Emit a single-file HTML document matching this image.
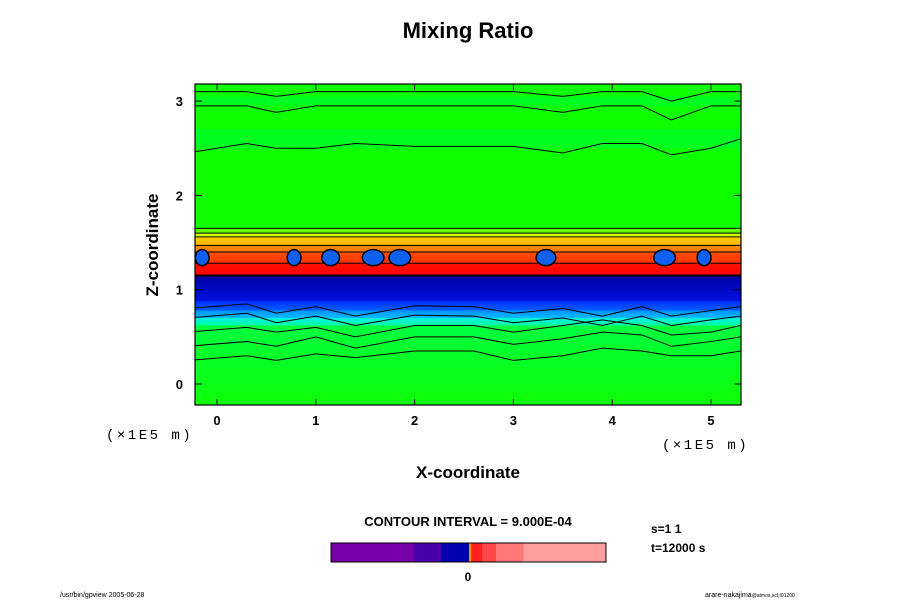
<!DOCTYPE html>
<html><head><meta charset="utf-8"><style>
body{margin:0;background:#fff;}
svg{display:block;font-family:"Liberation Sans",Arial,sans-serif;}
</style></head><body>
<svg id="chart" width="900" height="600" viewBox="0 0 900 600">
<text x="468" y="38" font-size="22" font-weight="bold" text-anchor="middle">Mixing Ratio</text>
<defs><clipPath id="pc"><rect x="195" y="84" width="546" height="321"/></clipPath></defs>
<g id="plot" clip-path="url(#pc)"></g>
<rect x="195" y="84" width="546" height="321" fill="none" stroke="#000" stroke-width="1.2"/>
<g id="axes"></g>
<text x="468" y="478" font-size="17" font-weight="bold" text-anchor="middle">X-coordinate</text>
<text transform="translate(158,245) rotate(-90)" font-size="17" font-weight="bold" text-anchor="middle">Z-coordinate</text>
<text x="106" y="439" font-size="14" letter-spacing="2.5" font-family="Liberation Mono,monospace">(×1E5 m)</text>
<text x="662" y="449" font-size="14" letter-spacing="2.5" font-family="Liberation Mono,monospace">(×1E5 m)</text>
<text x="468" y="526" font-size="13" font-weight="bold" text-anchor="middle">CONTOUR INTERVAL = 9.000E-04</text>
<g id="cbar"></g>
<text x="468" y="581" font-size="12" font-weight="bold" text-anchor="middle">0</text>
<text x="651" y="533" font-size="12" font-weight="bold">s=1 1</text>
<text x="651" y="552" font-size="12" font-weight="bold">t=12000 s</text>
<text x="60" y="597" font-size="7">/usr/bin/gpview 2005-06-28</text>
<text x="705" y="597" font-size="7">arare-nakajima<tspan font-size="5">@atmos,sct,t01200</tspan></text>
</svg>
<script>
const xTicks=[0,1,2,3,4,5];
const zTicks=[0,1,2,3];
const bandTop=[3.3,3.05,2.95,2.7,2.5,1.65,1.60,1.56,1.47,1.40,1.28,1.15,0.88,0.78,0.70,0.62];
const bandBot=[3.05,2.95,2.7,2.5,1.65,1.60,1.56,1.47,1.40,1.28,1.15,0.88,0.78,0.70,0.62,-0.3];
const bandC1=["#10ff00","#00ff20","#10ff00","#00ff20","#10ff00","#60ff00","#c0ff00","#ffd000","#ff9000","#ff5000","#ff1000","#0000a0","#0030ff","#0090ff","#00f0e0","#00ff40"];
const bandC2=["#10ff00","#00ff20","#10ff00","#00ff20","#10ff00","#60ff00","#e0ff00","#ffb000","#ff7000","#ff3000","#ff0000","#0010e0","#0060ff","#00c0ff","#00ffa0","#10ff00"];
const blobX=[-0.15,0.78,1.15,1.58,1.85,3.33,4.53,4.93];
const blobW=[0.07,0.07,0.09,0.11,0.11,0.1,0.11,0.07];
const lineXs=[-0.3,0.3,0.6,1.0,1.4,2.0,2.6,3.0,3.5,3.9,4.3,4.6,5.0,5.3];
const lineZs=[
[3.1,3.1,3.05,3.1,3.1,3.1,3.1,3.1,3.05,3.1,3.1,3.0,3.1,3.1],
[2.95,2.95,2.88,2.95,2.95,2.95,2.95,2.95,2.88,2.95,2.95,2.8,2.95,2.95],
[2.45,2.55,2.5,2.5,2.55,2.52,2.52,2.52,2.45,2.55,2.55,2.43,2.5,2.6],
[0.80,0.85,0.75,0.82,0.72,0.83,0.82,0.75,0.8,0.72,0.82,0.72,0.78,0.82],
[0.70,0.75,0.65,0.72,0.62,0.73,0.72,0.65,0.7,0.62,0.72,0.62,0.68,0.72],
[0.55,0.6,0.55,0.6,0.5,0.62,0.62,0.55,0.62,0.68,0.62,0.52,0.55,0.62],
[0.40,0.45,0.4,0.5,0.38,0.5,0.5,0.42,0.48,0.55,0.52,0.4,0.45,0.5],
[0.25,0.3,0.25,0.32,0.28,0.35,0.35,0.25,0.3,0.38,0.35,0.3,0.3,0.35]];
const cbarStops=[0,0.3,0.4,0.5,0.502,0.51,0.55,0.6,0.7,1];
const cbarCols=["#7800a8","#4a00a8","#0000b0","#0020ff","#ff9000","#ff2020","#ff4848","#ff7878","#ff9e9e"];
const X=v=>217+v*98.8, Z=v=>384-v*94.3;
const NS="http://www.w3.org/2000/svg";
function mk(t,a,p){const e=document.createElementNS(NS,t);for(const k in a)e.setAttribute(k,a[k]);p.appendChild(e);return e;}
const plot=document.getElementById('plot');
const defs=document.querySelector('defs');
bandTop.forEach((t,i)=>{
 const g=mk('linearGradient',{id:'g'+i,x1:0,y1:0,x2:0,y2:1},defs);
 mk('stop',{offset:0,'stop-color':bandC1[i]},g);mk('stop',{offset:1,'stop-color':bandC2[i]},g);
 const r=mk('rect',{x:190,y:Z(t),width:560,height:Z(bandBot[i])-Z(t)+0.5,fill:'url(#g'+i+')'},plot);
 
 
});
[1.65,1.60,1.56,1.47,1.40,1.28,1.15].forEach(z=>{
 const l=mk('line',{x1:190,x2:750,y1:Z(z),y2:Z(z),stroke:'#000','stroke-width':z==1.15?2:1},plot);
 
 
});
lineZs.forEach(zs=>{
 const p=mk('polyline',{points:lineXs.map((x,j)=>X(x)+','+Z(zs[j])).join(' '),fill:'none',stroke:'#000','stroke-width':1},plot);
 
 
});
blobX.forEach((x,i)=>{
 const e=mk('ellipse',{cx:X(x),cy:Z(1.34),rx:blobW[i]*98.8,ry:8,fill:'#1060f0',stroke:'#000','stroke-width':1.5},plot);
 
 
});
const ax=document.getElementById('axes');
xTicks.forEach(v=>{
 mk('line',{x1:X(v),x2:X(v),y1:405,y2:399,stroke:'#000'},ax);
 mk('line',{x1:X(v),x2:X(v),y1:84,y2:90,stroke:'#000'},ax);
 const t=mk('text',{x:X(v),y:425,'font-size':13,'font-weight':'bold','text-anchor':'middle'},ax);
 t.textContent=v;
 
 
});
zTicks.forEach(v=>{
 mk('line',{x1:195,x2:202,y1:Z(v),y2:Z(v),stroke:'#000'},ax);
 mk('line',{x1:741,x2:734,y1:Z(v),y2:Z(v),stroke:'#000'},ax);
 const t=mk('text',{x:183,y:Z(v)+5,'font-size':13,'font-weight':'bold','text-anchor':'end'},ax);
 t.textContent=v;
 
 
});
const cb=document.getElementById('cbar');
for(let i=0;i<cbarCols.length;i++){
 const x0=331+cbarStops[i]*275,x1=331+cbarStops[i+1]*275;
 const r=mk('rect',{x:x0,y:543,width:x1-x0+0.3,height:19,fill:cbarCols[i]},cb);
 
 
}
mk('line',{x1:468,x2:468,y1:543,y2:562,stroke:'#000'},cb);
mk('rect',{x:331,y:543,width:275,height:19,fill:'none',stroke:'#000'},cb);
</script>
</body></html>
